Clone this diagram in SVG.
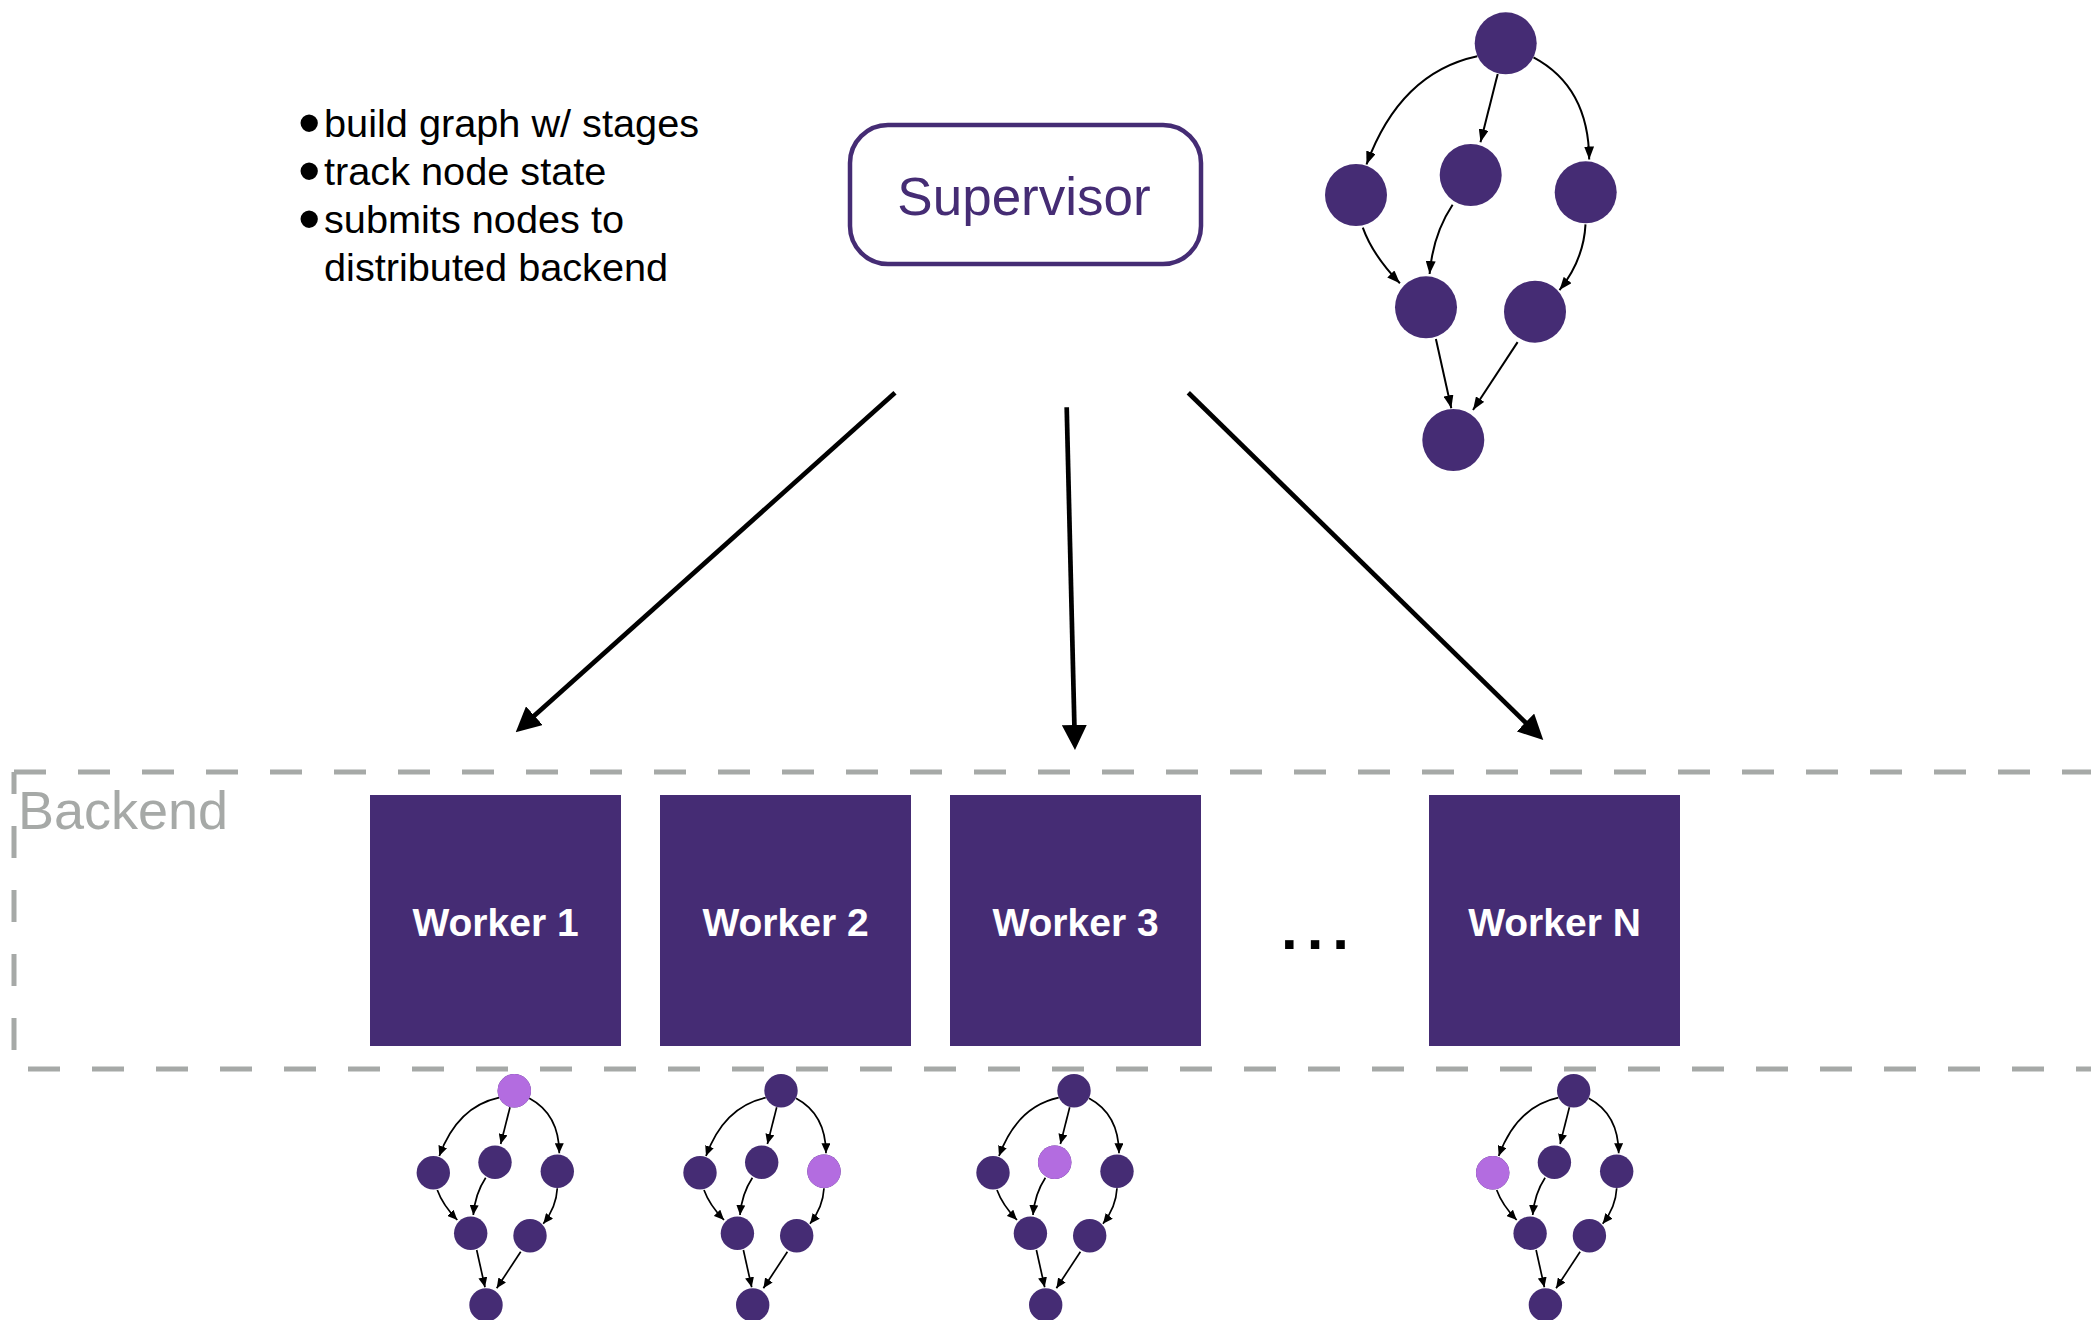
<svg xmlns="http://www.w3.org/2000/svg" xmlns:xlink="http://www.w3.org/1999/xlink" width="2091" height="1320" viewBox="0 0 2091 1320">
<style>
  .txt { font-family: "Liberation Sans", Arial, sans-serif; }
  .bullet { font-family: "Liberation Sans", Arial, sans-serif; font-size: 39.7px; fill: #000; }
  .bdot { font-size: 64px; }
  .worker rect { fill: #452c74; }
  .worker text { font-family: "Liberation Sans", Arial, sans-serif; font-size: 39px; font-weight: bold; fill: #fff; text-anchor: middle; }
  .node { fill: #452c74; }
  .hl { fill: #b36ce0; }
  .edge-s { fill: none; stroke: #000; stroke-width: 1.7; marker-end: url(#ah-s); }
  .edge-b { fill: none; stroke: #000; stroke-width: 2; marker-end: url(#ah-b); }
  .big { fill: none; stroke: #000; stroke-width: 4.7; marker-end: url(#ah-big); }
  .dash { fill: none; stroke: #a6a9a7; stroke-width: 5; stroke-dasharray: 32 32; }
</style>
<defs>
  <marker id="ah-s" markerUnits="userSpaceOnUse" viewBox="0 0 10 9" refX="10" refY="4.5" markerWidth="10" markerHeight="9" orient="auto">
    <path d="M0,0 L10,4.5 L0,9 z" fill="#000"/>
  </marker>
  <marker id="ah-b" markerUnits="userSpaceOnUse" viewBox="0 0 13 10" refX="13" refY="5" markerWidth="13" markerHeight="10" orient="auto">
    <path d="M0,0 L13,5 L0,10 z" fill="#000"/>
  </marker>
  <marker id="ah-big" markerUnits="userSpaceOnUse" viewBox="0 0 25 25" refX="5" refY="12.5" markerWidth="25" markerHeight="25" orient="auto">
    <path d="M0,0 L25,12.5 L0,25 z" fill="#000"/>
  </marker>
  <g id="mini-dag">
    <path class="edge-s" d="M-15.3,7 Q-56.85,15.85 -75,65.3"/>
    <path class="edge-s" d="M-4.3,16.6 L-13.6,53.3"/>
    <path class="edge-s" d="M15,7.6 Q44.8,23.5 45,62.6"/>
    <path class="edge-s" d="M-77,99.3 Q-71.6,114.3 -57,129.3"/>
    <path class="edge-s" d="M-28.6,87 Q-39.2,103 -41,124.3"/>
    <path class="edge-s" d="M43,97.6 Q42,116.7 29,133"/>
    <path class="edge-s" d="M-37.6,159.3 L-29.3,196.6"/>
    <path class="edge-s" d="M6.4,161 L-17.6,197.6"/>
    <circle class="node" cx="0" cy="0" r="16.7"/>
    <circle class="node" cx="-81" cy="82" r="16.7"/>
    <circle class="node" cx="-19.3" cy="71.6" r="16.7"/>
    <circle class="node" cx="43" cy="80.6" r="16.7"/>
    <circle class="node" cx="-43.6" cy="142.6" r="16.7"/>
    <circle class="node" cx="15.7" cy="145" r="16.7"/>
    <circle class="node" cx="-28.3" cy="214.3" r="16.7"/>
  </g>
</defs>

<rect width="2091" height="1320" fill="#fff"/>

<!-- Backend container -->
<g id="backend">
  <path class="dash" d="M14,772 L2091,772"/>
  <path class="dash" d="M14,1069 L2091,1069" stroke-dashoffset="50"/>
  <path class="dash" d="M14,1069 L14,772" stroke-dashoffset="45"/>
  <text class="txt" x="18" y="829" font-size="54" fill="#a6a9a7">Backend</text>
</g>

<!-- Notes -->
<g id="notes">
  <text class="bullet" y="137"><tspan class="bdot" x="298" dy="8">•</tspan><tspan x="324" dy="-8">build graph w/ stages</tspan></text>
  <text class="bullet" y="185"><tspan class="bdot" x="298" dy="8">•</tspan><tspan x="324" dy="-8">track node state</tspan></text>
  <text class="bullet" y="233"><tspan class="bdot" x="298" dy="8">•</tspan><tspan x="324" dy="-8">submits nodes to</tspan></text>
  <text class="bullet" x="324" y="281">distributed backend</text>
</g>

<!-- Supervisor -->
<g id="supervisor">
  <rect x="850" y="125" width="351" height="139" rx="38" ry="38" fill="#fff" stroke="#452c74" stroke-width="4.5"/>
  <text class="txt" x="1024" y="215" font-size="53" fill="#452c74" text-anchor="middle">Supervisor</text>
</g>

<!-- Supervisor graph -->
<g id="supervisor-graph">
  <path class="edge-b" d="M1477.3,56.3 Q1400.2,72.7 1366.5,164.5"/>
  <path class="edge-b" d="M1497.7,74.1 L1480.5,142.2"/>
  <path class="edge-b" d="M1533.5,57.4 Q1588.8,86.9 1589.2,159.5"/>
  <path class="edge-b" d="M1362.8,227.6 Q1372.8,255.4 1399.9,283.3"/>
  <path class="edge-b" d="M1452.6,204.8 Q1432.9,234.5 1429.6,274"/>
  <path class="edge-b" d="M1585.5,224.4 Q1583.7,259.9 1559.5,290.1"/>
  <path class="edge-b" d="M1435.9,339 L1451.3,408.2"/>
  <path class="edge-b" d="M1517.6,342.1 L1473,410"/>
  <circle class="node" cx="1505.7" cy="43.3" r="31"/>
  <circle class="node" cx="1356" cy="195" r="31"/>
  <circle class="node" cx="1470.7" cy="175" r="31"/>
  <circle class="node" cx="1585.7" cy="192.3" r="31"/>
  <circle class="node" cx="1426" cy="307.3" r="31"/>
  <circle class="node" cx="1535" cy="311.7" r="31"/>
  <circle class="node" cx="1453.3" cy="440" r="31"/>
</g>

<!-- Connectors -->
<g id="connectors">
  <path class="big" d="M895,392.7 L530.6,719"/>
  <path class="big" d="M1066.7,407.3 L1074.5,730"/>
  <path class="big" d="M1188.3,392.7 L1529,726"/>
</g>

<!-- Workers -->
<g id="worker-1" class="worker">
  <rect x="370" y="795" width="251" height="251"/>
  <text x="495.5" y="936">Worker 1</text>
</g>
<g id="worker-2" class="worker">
  <rect x="660" y="795" width="251" height="251"/>
  <text x="785.5" y="936">Worker 2</text>
</g>
<g id="worker-3" class="worker">
  <rect x="950" y="795" width="251" height="251"/>
  <text x="1075.5" y="936">Worker 3</text>
</g>
<g id="ellipsis">
  <text class="txt" x="1281" y="949" font-size="60" font-weight="bold" letter-spacing="9" fill="#000">...</text>
</g>
<g id="worker-n" class="worker">
  <rect x="1429" y="795" width="251" height="251"/>
  <text x="1554.5" y="936">Worker N</text>
</g>

<!-- Worker graphs -->
<g id="graph-1">
  <use xlink:href="#mini-dag" href="#mini-dag" transform="translate(514.3,1090.7)"/>
  <circle class="hl" cx="514.3" cy="1090.7" r="16.7"/>
</g>
<g id="graph-2">
  <use xlink:href="#mini-dag" href="#mini-dag" transform="translate(781,1090.7)"/>
  <circle class="hl" cx="824" cy="1171.3" r="16.7"/>
</g>
<g id="graph-3">
  <use xlink:href="#mini-dag" href="#mini-dag" transform="translate(1074,1090.7)"/>
  <circle class="hl" cx="1054.7" cy="1162.3" r="16.7"/>
</g>
<g id="graph-n">
  <use xlink:href="#mini-dag" href="#mini-dag" transform="translate(1573.7,1090.7)"/>
  <circle class="hl" cx="1492.7" cy="1172.7" r="16.7"/>
</g>
</svg>
